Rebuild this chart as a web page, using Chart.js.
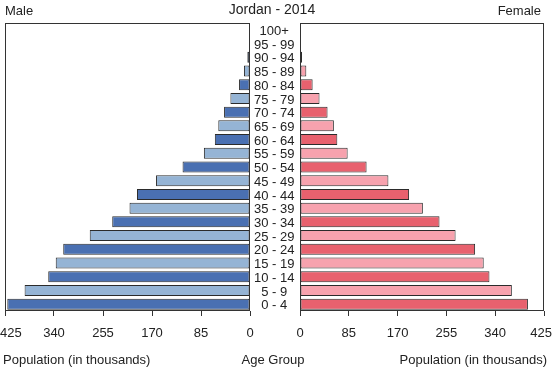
<!DOCTYPE html>
<html>
<head>
<meta charset="utf-8">
<script src="https://cdn.jsdelivr.net/npm/chart.js@4/dist/chart.umd.min.js"></script>
<style>
  html, body { margin:0; padding:0; background:#fff; overflow:hidden; }
  body { width:552px; height:368px; position:relative; font-family:"Liberation Sans", Arial, sans-serif; color:#222; }
  canvas { position:absolute; top:0; }
  .t { position:absolute; font-size:13px; line-height:15px; white-space:nowrap; }
</style>
</head>
<body>
<canvas id="male" width="300" height="368" style="left:0"></canvas>
<canvas id="female" width="276" height="368" style="left:276px"></canvas>
<div class="t" style="left:5px;top:3px;">Male</div>
<div class="t" style="left:0;width:544px;top:2px;text-align:center;font-size:14px;">Jordan - 2014</div>
<div class="t" style="right:11px;top:3px;">Female</div>
<div class="t" style="left:3px;top:352px;">Population (in thousands)</div>
<div class="t" style="left:0;width:546px;top:352px;text-align:center;">Age Group</div>
<div class="t" style="right:5px;top:352px;">Population (in thousands)</div>
<script>
// Age groups, bottom (0 - 4) to top (100+)
const ageGroups = ["0 - 4","5 - 9","10 - 14","15 - 19","20 - 24","25 - 29","30 - 34","35 - 39","40 - 44","45 - 49","50 - 54","55 - 59","60 - 64","65 - 69","70 - 74","75 - 79","80 - 84","85 - 89","90 - 94","95 - 99","100+"];
// Population in thousands
const maleValues   = [421, 391, 350, 337, 324, 278, 239, 209, 196, 163, 117, 80, 61, 55, 45, 34, 19, 10.5, 4.6, 0.6, 0.1];
const femaleValues = [397, 369, 330, 320, 305, 271, 243, 214, 190, 154, 116, 83, 65, 59, 48, 34, 22, 11, 3.5, 0.6, 0.1];
const xTicks = [0, 85, 170, 255, 340, 425];

const maleColors = ["#4a70b2", "#95b4d5"];
const femaleColors = ["#e8616e", "#f7a2ae"];

Chart.defaults.font.family = '"Liberation Sans", Arial, sans-serif';
Chart.defaults.font.size = 13;
Chart.defaults.color = "#222";

const boxPlugin = {
  id: "box",
  afterDatasetsDraw(chart) {
    const a = chart.chartArea, ctx = chart.ctx;
    ctx.save();
    ctx.strokeStyle = "#333";
    ctx.lineWidth = 1;
    ctx.strokeRect(Math.round(a.left) + 0.5, Math.round(a.top) + 0.5,
                   Math.round(a.right - a.left) - 1, Math.round(a.bottom - a.top) - 1);
    ctx.restore();
  },
  afterDraw(chart) {
    const s = chart.scales.x, ctx = chart.ctx;
    const off = chart.canvas.offsetLeft;
    ctx.save();
    ctx.font = '13px "Liberation Sans", Arial, sans-serif';
    ctx.fillStyle = "#222";
    ctx.textAlign = "center";
    ctx.textBaseline = "alphabetic";
    s.ticks.forEach(t => {
      const lab = String(t.value);
      const w = ctx.measureText(lab).width;
      let x = s.getPixelForValue(t.value);
      const pageX = off + x;
      if (pageX - w / 2 < 0) x = w / 2 - off;
      if (pageX + w / 2 > 552) x = 552 - off - w / 2;
      ctx.fillText(lab, x, 337);
    });
    ctx.restore();
  }
};

function xScale(reverse) {
  return {
    type: "linear",
    min: 0, max: 425, reverse: reverse,
    afterBuildTicks: s => { s.ticks = xTicks.map(v => ({ value: v })); },
    afterFit: s => { s.height = 5; },
    ticks: { display: false },
    grid: { drawOnChartArea: false, drawTicks: true, tickLength: 5, color: "#333" },
    border: { display: false }
  };
}

new Chart(document.getElementById("male"), {
  type: "bar",
  data: {
    labels: ageGroups,
    datasets: [{
      data: maleValues,
      backgroundColor: maleValues.map((v, i) => maleColors[i % 2]),
      borderColor: "#2b2b2b", borderWidth: 1, borderSkipped: false,
      barPercentage: 0.8, categoryPercentage: 1.0
    }]
  },
  options: {
    indexAxis: "y", responsive: false, animation: false, devicePixelRatio: 1,
    layout: { padding: { left: 5, right: 0, top: 23, bottom: 52 } },
    plugins: { legend: { display: false }, tooltip: { enabled: false } },
    scales: {
      x: xScale(true),
      y: {
        type: "category", position: "right", reverse: true,
        afterFit: s => { s.width = 50; },
        grid: { display: false, drawTicks: false },
        border: { display: false },
        ticks: { crossAlign: "center", padding: 4, labelOffset: 1.5, autoSkip: false, color: "#222", font: { size: 13 } }
      }
    }
  },
  plugins: [boxPlugin]
});

new Chart(document.getElementById("female"), {
  type: "bar",
  data: {
    labels: ageGroups,
    datasets: [{
      data: femaleValues,
      backgroundColor: femaleValues.map((v, i) => femaleColors[i % 2]),
      borderColor: "#2b2b2b", borderWidth: 1, borderSkipped: false,
      barPercentage: 0.8, categoryPercentage: 1.0
    }]
  },
  options: {
    indexAxis: "y", responsive: false, animation: false, devicePixelRatio: 1,
    layout: { padding: { left: 24, right: 8, top: 23, bottom: 52 } },
    plugins: { legend: { display: false }, tooltip: { enabled: false } },
    scales: {
      x: xScale(false),
      y: { type: "category", reverse: true, display: false }
    }
  },
  plugins: [boxPlugin]
});
</script>
</body>
</html>
